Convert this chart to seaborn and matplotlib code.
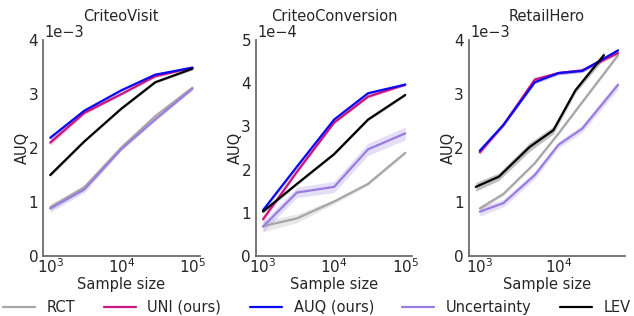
import numpy as np
import pandas as pd
import matplotlib
matplotlib.use('Agg')
import matplotlib.pyplot as plt
import seaborn as sns

methods = ['RCT', 'UNI (ours)', 'AUQ (ours)', 'Uncertainty', 'LEV']
colors = ['#a6a6a6', '#c8157f', '#0a0af0', '#9a7ce0', '#000000']

# CriteoVisit (values in units of 1e-3)
cv_n = [1e3, 3e3, 1e4, 3e4, 1e5]
cv_mean = {
    'RCT':         [0.90, 1.27, 2.01, 2.59, 3.12],
    'UNI (ours)':  [2.10, 2.65, 3.00, 3.33, 3.49],
    'AUQ (ours)':  [2.19, 2.69, 3.07, 3.36, 3.49],
    'Uncertainty': [0.88, 1.23, 1.98, 2.53, 3.10],
    'LEV':         [1.50, 2.12, 2.73, 3.22, 3.47],
}
cv_err = {
    'RCT':         [0.06, 0.05, 0.03, 0.04, 0.03],
    'UNI (ours)':  [0.05, 0.03, 0.02, 0.02, 0.02],
    'AUQ (ours)':  [0.04, 0.03, 0.02, 0.02, 0.02],
    'Uncertainty': [0.07, 0.06, 0.03, 0.03, 0.03],
    'LEV':         [0.03, 0.02, 0.02, 0.02, 0.02],
}

# CriteoConversion (values in units of 1e-4)
cc_n = [1e3, 3e3, 1e4, 3e4, 1e5]
cc_mean = {
    'RCT':         [0.69, 0.87, 1.26, 1.67, 2.39],
    'UNI (ours)':  [0.85, 1.95, 3.09, 3.69, 3.97],
    'AUQ (ours)':  [1.06, 2.07, 3.16, 3.77, 3.97],
    'Uncertainty': [0.68, 1.47, 1.60, 2.47, 2.84],
    'LEV':         [1.03, 1.67, 2.36, 3.16, 3.73],
}
cc_err = {
    'RCT':         [0.13, 0.10, 0.05, 0.04, 0.04],
    'UNI (ours)':  [0.06, 0.04, 0.03, 0.03, 0.03],
    'AUQ (ours)':  [0.05, 0.04, 0.03, 0.03, 0.03],
    'Uncertainty': [0.12, 0.12, 0.13, 0.14, 0.15],
    'LEV':         [0.04, 0.03, 0.03, 0.03, 0.03],
}

# RetailHero (values in units of 1e-3)
rh_n = {
    'RCT':         [1e3, 2e3, 5e3, 1e4, 2e4, 5.7e4],
    'UNI (ours)':  [1e3, 2e3, 5e3, 1e4, 2e4, 5.7e4],
    'AUQ (ours)':  [1e3, 2e3, 5e3, 1e4, 2e4, 5.7e4],
    'Uncertainty': [1e3, 2e3, 5e3, 1e4, 2e4, 5.7e4],
    'LEV':         [890, 1.75e3, 4.3e3, 8.6e3, 1.64e4, 3.77e4],
}
rh_mean = {
    'RCT':         [0.88, 1.15, 1.72, 2.27, 2.85, 3.72],
    'UNI (ours)':  [1.92, 2.43, 3.27, 3.39, 3.44, 3.76],
    'AUQ (ours)':  [1.95, 2.43, 3.22, 3.39, 3.43, 3.81],
    'Uncertainty': [0.82, 0.98, 1.50, 2.06, 2.36, 3.17],
    'LEV':         [1.28, 1.47, 2.02, 2.33, 3.07, 3.72],
}
rh_err = {
    'RCT':         [0.05, 0.03, 0.03, 0.03, 0.03, 0.03],
    'UNI (ours)':  [0.05, 0.03, 0.04, 0.03, 0.03, 0.03],
    'AUQ (ours)':  [0.03, 0.03, 0.03, 0.03, 0.03, 0.03],
    'Uncertainty': [0.08, 0.07, 0.07, 0.06, 0.07, 0.08],
    'LEV':         [0.08, 0.07, 0.08, 0.07, 0.05, 0.07],
}

panels = [
    ('CriteoVisit', cv_n, cv_mean, cv_err, 4, '1e\u22123'),
    ('CriteoConversion', cc_n, cc_mean, cc_err, 5, '1e\u22124'),
    ('RetailHero', rh_n, rh_mean, rh_err, 4, '1e\u22123'),
]

sns.set_theme(style='white')
plt.rcParams['font.family'] = ['DejaVu Sans']
fs = 10.5

fig, axes = plt.subplots(1, 3, figsize=(6.34, 3.16), dpi=100)
plt.subplots_adjust(left=0.068, right=0.986, bottom=0.19, top=0.873, wspace=0.36)

for ax, (title, n, mean, err, ymax, offset) in zip(axes, panels):
    rows = []
    for m in methods:
        xs = n[m] if isinstance(n, dict) else n
        for x, y, e in zip(xs, mean[m], err[m]):
            rows.append({'n': x, 'auq': y, 'err': e, 'method': m})
    df = pd.DataFrame(rows)
    for m, c in zip(methods, colors):
        d = df[df.method == m]
        ax.fill_between(d.n, d.auq - d.err, d.auq + d.err, color=c, alpha=0.25, lw=0)
    sns.lineplot(data=df, x='n', y='auq', hue='method', hue_order=methods,
                 palette=colors, lw=1.6, ax=ax, legend=False)
    ax.set_xscale('log')
    ax.set_ylim(0, ymax)
    ax.set_yticks(range(ymax + 1))
    ax.set_title(title, fontsize=fs, color='.15', pad=14)
    ax.set_xlabel('Sample size', fontsize=fs, labelpad=1)
    ax.set_ylabel('AUQ', fontsize=fs, labelpad=-1)
    ax.tick_params(labelsize=11, which='both', length=0)
    ax.tick_params(axis='x', pad=1)
    ax.text(0.01, 1.0, offset, transform=ax.transAxes, fontsize=fs, color='.15',
            ha='left', va='bottom')
    sns.despine(ax=ax)
    ax.spines['left'].set_color('.4')
    ax.spines['bottom'].set_color('.4')

axes[2].set_xticks([1e3, 1e4])

handles = [plt.Line2D([], [], color=c, lw=1.6) for c in colors]
fig.legend(handles, methods, loc='center', ncol=5, frameon=False,
           fontsize=fs, bbox_to_anchor=(0.5, 0.028), columnspacing=1.95,
           handlelength=2.2, handletextpad=0.8, borderaxespad=0)

plt.savefig('out.png', dpi=100)
